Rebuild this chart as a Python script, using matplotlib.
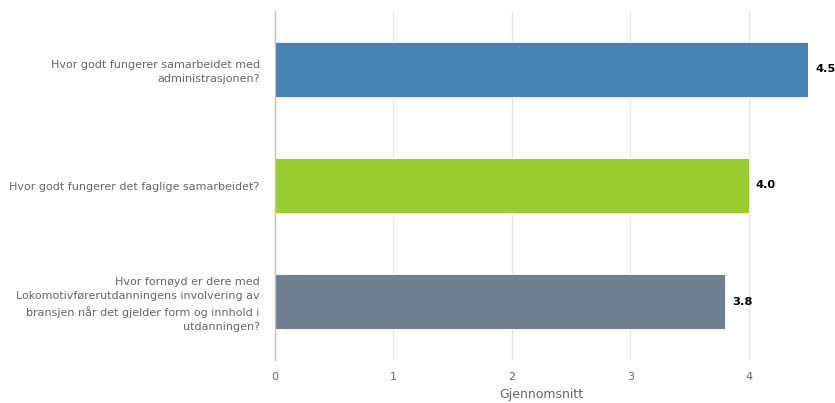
import matplotlib
matplotlib.use("Agg")
import matplotlib.pyplot as plt

categories = [
    "Hvor godt fungerer samarbeidet med\nadministrasjonen?",
    "Hvor godt fungerer det faglige samarbeidet?",
    "Hvor fornøyd er dere med\nLokomotivførerutdanningens involvering av\nbransjen når det gjelder form og innhold i\nutdanningen?",
]
values = [4.5, 4.0, 3.8]
colors = ["#4682b4", "#9acd32", "#708090"]
xticks = [0, 1, 2, 3, 4]
xlabel = "Gjennomsnitt"

fig = plt.figure(figsize=(8.35, 4.03), dpi=100)
ax = fig.add_axes([275/835, 43/403, (808-275)/835, (392-43)/403])

y = list(range(len(categories)))
ax.barh(y, values, height=0.47, color=colors, edgecolor="white", linewidth=0.6, zorder=3)
ax.set_ylim(len(categories) - 0.5, -0.5)
ax.set_xlim(0, 4.5)

ax.set_xticks(xticks)
ax.set_xticklabels([str(t) for t in xticks])
ax.set_yticks(y)
ax.set_yticklabels(categories, fontsize=8.0, color="#666666", linespacing=1.5)
ax.tick_params(axis="y", length=0, pad=11)
ax.tick_params(axis="x", length=0, pad=9, labelsize=8.0, labelcolor="#666666")
ax.grid(axis="x", color="#e6e6e6", linewidth=1, zorder=0)
for s in ["top", "right", "bottom"]:
    ax.spines[s].set_visible(False)
ax.spines["left"].set_color("#c0c0c0")
ax.spines["left"].set_linewidth(1)
ax.spines["left"].set_zorder(4)

ax.set_xlabel(xlabel, fontsize=9, color="#666666", labelpad=4)

for yi, v in zip(y, values):
    ax.annotate(f"{v:.1f}", xy=(v, yi), xytext=(5, 0), textcoords="offset points",
                va="center", ha="left", fontsize=8.2, fontweight="bold", color="black",
                annotation_clip=False)

fig.savefig("out.png", dpi=100)
